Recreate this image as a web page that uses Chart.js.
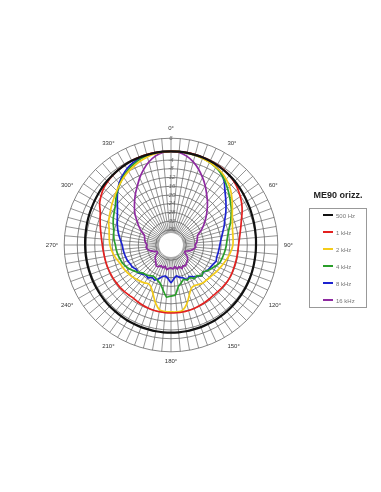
<!DOCTYPE html>
<html>
<head>
<meta charset="utf-8">
<script src="https://cdn.jsdelivr.net/npm/chart.js@4"></script>
<style>
  body { margin:0; background:#fff; width:381px; height:492px; position:relative; overflow:hidden; font-family:"Liberation Sans", Arial, sans-serif; }
  #wrap { position:absolute; left:26px; top:125px; width:290px; height:240px; }
  #title { position:absolute; left:300px; top:190px; width:76px; text-align:center; font-weight:bold; font-size:9px; color:#222; }
  #legend { position:absolute; left:309px; top:208px; width:58px; height:100px; border:1px solid #999; box-sizing:border-box; }
  .item { position:absolute; left:13px; font-size:6px; color:#777; height:8px; line-height:8px; white-space:nowrap; }
  .item span { display:inline-block; width:10px; height:2px; vertical-align:middle; margin-right:3px; position:relative; top:-1px; }
</style>
</head>
<body>
<div id="wrap"><canvas id="polar" width="290" height="240"></canvas></div>
<div id="title">ME90 orizz.</div>
<div id="legend"></div>
<script>
// angles every 5 deg, labels only every 30 deg
const angles = [];
for (let a = 0; a < 360; a += 5) angles.push(a);
const angleLabels = angles.map(a => a % 30 == 0 ? a + "°" : "");

const ringTicks = [-36, -32, -28, -24, -20, -16, -12, -8, -4, 0, 6];
const seriesNames = ["500 Hz", "1 kHz", "2 kHz", "4 kHz", "8 kHz", "16 kHz"];
const seriesColors = ["#111111", "#e3201f", "#f4cc1a", "#2a9e2a", "#1c22cf", "#8e2aa0"];

// dB values, 0..355 deg clockwise from front
const hz500 = [0, 0, -0.1, -0.2, -0.3, -0.5, -0.7, -1, -1.3, -1.6, -2, -2.4, -2.8, -3.1, -3.4, -3.6, -3.8, -3.9, -4, -4, -4, -3.9, -3.8, -3.7, -3.6, -3.5, -3.4, -3.3, -3.2, -3.1, -3, -3, -2.9, -2.9, -2.8, -2.8, -2.8,
  -2.8, -2.8, -2.9, -2.9, -3, -3, -3.1, -3.2, -3.2, -3.3, -3.4, -3.5, -3.5, -3.6, -3.6, -3.6, -3.6, -3.6, -3.5, -3.4, -3.2, -3, -2.8, -2.5, -2.2, -1.8, -1.5, -1.2, -0.9, -0.6, -0.4, -0.3, -0.2, -0.1, 0];
const khz1 = [0, 0, 0, -0.1, -0.2, -0.3, -0.5, -0.8, -1.3, -2, -3, -4.2, -5.5, -7, -8.6, -9.8, -10.8, -11.5, -12, -12.2, -12.3, -12.3, -12.3, -12.2, -12.2, -12.3, -12.5, -12.7, -12.8, -12.6, -12.4, -12.2, -12, -11.9, -11.8, -11.8, -11.8,
  -11.8, -11.9, -12, -12.2, -12.5, -12.8, -13.1, -13, -12.8, -12.6, -12.5, -12.4, -12.3, -12.2, -12.1, -12, -11.8, -11.5, -11, -10.3, -9.4, -8.4, -7.2, -5.2, -3.8, -2.6, -1.9, -1.4, -0.9, -0.6, -0.4, -0.2, -0.1, 0, 0];
const khz2 = [0, 0, -0.2, -0.4, -0.7, -1.1, -1.7, -2.4, -3.6, -5, -6.8, -8.7, -10.5, -12, -13, -13.8, -14.2, -14.4, -14.6, -15.2, -15.9, -16.7, -17.5, -18.2, -18.8, -19.4, -19.8, -20.1, -20.3, -20.9, -21.5, -21, -18.5, -15, -12.5, -12.2, -12.3,
  -12.3, -12.8, -15.5, -19, -21.5, -22.4, -21.8, -21.2, -20.7, -20.1, -19.6, -19.1, -18.6, -18.2, -17.3, -16.4, -15.6, -15, -14.6, -14.2, -13.6, -12.6, -11.8, -11, -10, -9, -7.8, -6.5, -5.2, -4, -3, -2, -1.2, -0.5, -0.1];
const khz4 = [0, 0, -0.1, -0.3, -0.6, -1.1, -1.9, -3, -4.6, -6.3, -8, -9.6, -11, -12.6, -14, -15.5, -16.5, -17.2, -17.6, -18, -18.4, -18.8, -19.2, -20.3, -21.5, -22.5, -23.8, -23, -24.6, -24.2, -25.8, -25.2, -26.3, -25, -23.6, -20, -19.5,
  -19, -22, -24.5, -25.5, -26.2, -26.6, -25.8, -25.2, -24.8, -23.5, -22.3, -21, -20, -19.2, -18.7, -18.2, -17.8, -17.5, -16.8, -16.3, -15.8, -14.8, -13.8, -12.9, -11.8, -10, -8.2, -6.5, -4.8, -3.4, -2.2, -1.2, -0.6, -0.2, 0];
const khz8 = [0, 0, -0.1, -0.2, -0.4, -0.8, -1.4, -2.8, -5, -8, -10.2, -12.2, -14, -15.8, -17, -18.3, -19.3, -20.1, -20.6, -20.9, -21.1, -21.3, -21, -21.8, -22.2, -22.6, -23.6, -23, -24.2, -25.2, -26.3, -25.5, -27, -27.6, -28.6, -27.5, -25.7,
  -27.5, -28.5, -28, -26.5, -25.2, -25.8, -24.6, -25, -24.2, -23.2, -23.6, -22.6, -22.4, -21.8, -21.5, -21.2, -20.9, -20.6, -19.8, -18.8, -17.8, -16.8, -15.8, -14.6, -13, -10.8, -8.4, -6, -4.2, -2.6, -1.5, -0.8, -0.3, -0.1, 0];
const khz16 = [0, -0.4, -1.6, -3.5, -6, -8.8, -11.6, -14.5, -17, -19.5, -21.8, -24, -26, -28, -30, -30.5, -30.8, -31.2, -32, -31.5, -32.5, -33.5, -35, -36, -35.5, -34, -33, -32.5, -32, -31.3, -32, -31, -32.5, -31.5, -33, -32, -32.5,
  -32.3, -31.5, -33, -31.8, -32.6, -31.5, -31.2, -32.2, -33, -33.5, -34.5, -35.8, -36, -34.5, -33, -32, -31.5, -32, -31.3, -30.8, -30.5, -30, -28, -26, -24, -21.5, -19.3, -17, -14.5, -12, -9, -6.2, -3.6, -1.6, -0.4];

const seriesData = [hz500, khz1, khz2, khz4, khz8, khz16];
const HOLE_DB = -37.5;

// white hole in the middle of the grid
const holePlugin = {
    id: "hole",
    beforeDatasetsDraw(chart) {
        const s = chart.scales.r;
        const ctx = chart.ctx;
        ctx.save();
        ctx.fillStyle = "#fff";
        ctx.beginPath();
        ctx.arc(s.xCenter, s.yCenter, s.getDistanceFromCenterForValue(HOLE_DB), 0, Math.PI * 2);
        ctx.fill();
        ctx.restore();
    }
};

let datasets = [];
for (let i = 0; i < seriesData.length; i++) {
    datasets.push({
        label: seriesNames[i],
        data: seriesData[i],
        borderColor: seriesColors[i],
        backgroundColor: seriesColors[i],
        borderWidth: i == 0 ? 2.2 : 1.7,
        pointRadius: 0,
        fill: false,
        tension: i < 3 ? 0.3 : 0.1
    });
}

new Chart("polar", {
    type: "radar",
    data: { labels: angleLabels, datasets: datasets },
    options: {
        responsive: false,
        animation: false,
        layout: { padding: 0 },
        plugins: { legend: { display: false }, tooltip: { enabled: false } },
        elements: { line: { borderJoinStyle: "round" } },
        scales: {
            r: {
                min: -43,
                max: 6,
                afterBuildTicks: (scale) => { scale.ticks = ringTicks.map(v => ({ value: v })); },
                grid: { circular: true, color: "#666", lineWidth: 0.8 },
                angleLines: { color: "#666", lineWidth: 0.7 },
                ticks: {
                    display: true,
                    backdropPadding: 0,
                    showLabelBackdrop: false,
                    color: "#666",
                    font: { family: "Liberation Sans", size: 6, style: "italic" },
                    callback: (v) => v == 0 ? "" : String(v)
                },
                pointLabels: {
                    display: true,
                    padding: 3,
                    color: "#333",
                    font: { family: "Liberation Sans", size: 6 }
                }
            }
        }
    },
    plugins: [holePlugin]
});

// legend box
const legend = document.getElementById("legend");
for (let i = 0; i < seriesNames.length; i++) {
    const d = document.createElement("div");
    d.className = "item";
    d.style.top = (3 + i * 16.9) + "px";
    d.innerHTML = '<span style="background:' + seriesColors[i] + '"></span>' + seriesNames[i];
    legend.appendChild(d);
}
</script>
</body>
</html>
